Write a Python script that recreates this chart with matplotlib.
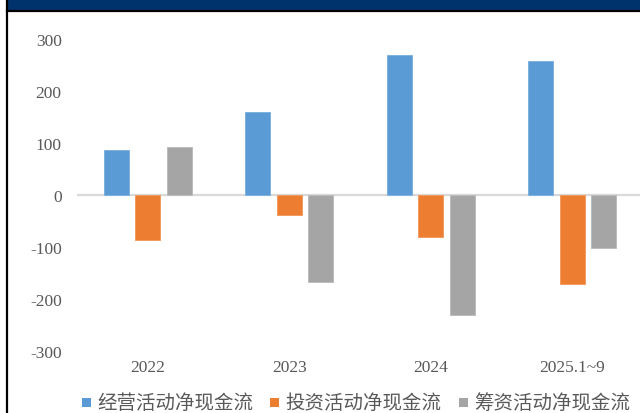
import matplotlib
matplotlib.use("Agg")
import matplotlib.pyplot as plt
from matplotlib.patches import Rectangle
from matplotlib.lines import Line2D
import numpy as np

categories = ["2022", "2023", "2024", "2025.1~9"]
series_names = ["经营活动净现金流", "投资活动净现金流", "筹资活动净现金流"]
operating = [87, 160, 269, 258]
investing = [-86, -38, -80, -172]
financing = [92, -168, -230, -102]
yticks = [-300, -200, -100, 0, 100, 200, 300]

colors = ["#5B9BD5", "#ED7D31", "#A5A5A5"]
edge_colors = ["#7FB2E0", "#F29B62", "#BDBDBD"]
text_color = "#595959"

W, H = 640, 414
fig = plt.figure(figsize=(W / 100, H / 100), dpi=100)
fig.patch.set_facecolor("white")

ax = fig.add_axes([77 / W, 1 - 352 / H, (643 - 77) / W, (352 - 40) / H])
ax.set_facecolor("white")

x = np.arange(len(categories))
width = 0.177
offset = 0.223
for i, vals in enumerate([operating, investing, financing]):
    ax.bar(x + (i - 1) * offset, vals, width=width, color=colors[i],
           edgecolor=edge_colors[i], linewidth=0.7, zorder=3)

ax.axhline(0, color="#D9D9D9", linewidth=1.6, zorder=2)
ax.set_xlim(-0.5, 3.5)
ax.set_ylim(-300, 300)
for s in ax.spines.values():
    s.set_visible(False)

ax.set_yticks(yticks)
ax.set_yticklabels([str(v) for v in yticks], fontfamily="Liberation Serif",
                   fontsize=12.5, color=text_color)
ax.set_xticks(x)
ax.set_xticklabels(categories, fontfamily="Liberation Serif",
                   fontsize=12.5, color=text_color)
ax.tick_params(axis="y", length=0, pad=11)
ax.tick_params(axis="x", length=0, pad=6)

# legend row drawn in figure pixels
leg_y = 1 - 403.5 / H
sq = 9
for i, (name, left) in enumerate(zip(series_names, [82, 270, 459])):
    fig.patches.append(Rectangle((left / W, leg_y - sq / 2 / H), sq / W, sq / H,
                                 transform=fig.transFigure, facecolor=colors[i],
                                 edgecolor="none"))
    fig.text((left + sq + 6) / W, leg_y, name, ha="left", va="center",
             fontsize=14, color=text_color,
             family=["Noto Sans CJK SC", "DejaVu Sans"])

# header band and frame
fig.patches.append(Rectangle((7 / W, 1 - 11 / H), (W - 7) / W, 11 / H,
                             transform=fig.transFigure, facecolor="#00336B",
                             edgecolor="none"))
fig.lines.append(Line2D([7 / W, 1], [1 - 12 / H, 1 - 12 / H],
                        transform=fig.transFigure, color="black", linewidth=1.6))
fig.lines.append(Line2D([7 / W, 7 / W], [0, 1],
                        transform=fig.transFigure, color="black", linewidth=1.6))

fig.savefig("out.png", dpi=100)
